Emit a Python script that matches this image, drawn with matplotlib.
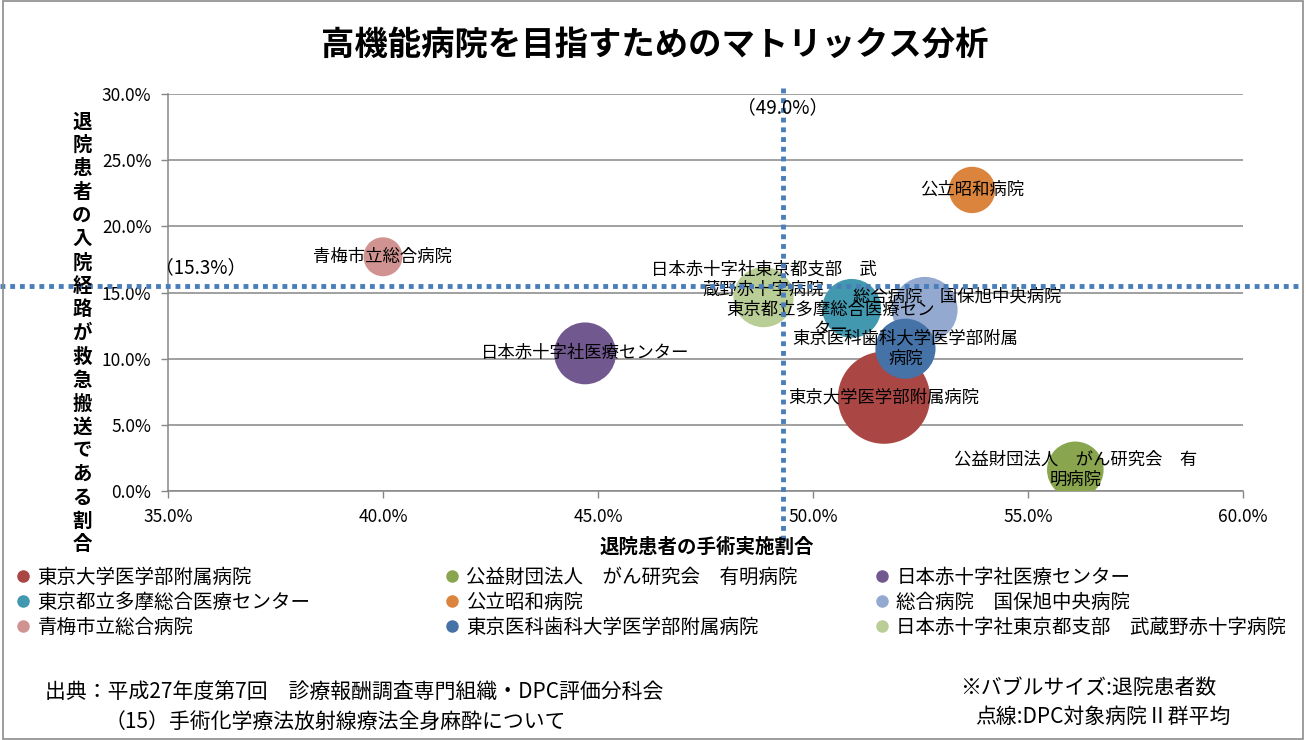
import matplotlib
matplotlib.use("Agg")
import matplotlib.pyplot as plt
from matplotlib.lines import Line2D
from matplotlib.patches import Rectangle
from matplotlib.ticker import FuncFormatter, MultipleLocator

plt.rcParams['font.family'] = ['Noto Sans CJK JP', 'DejaVu Sans']

# data (percent units)
hospitals = ["東京大学医学部附属病院", "公益財団法人　がん研究会　有明病院", "日本赤十字社医療センター",
             "東京都立多摩総合医療センター", "公立昭和病院", "総合病院　国保旭中央病院",
             "青梅市立総合病院", "東京医科歯科大学医学部附属病院", "日本赤十字社東京都支部　武蔵野赤十字病院"]
surgery_rate = [51.65, 56.1, 44.7, 50.9, 53.7, 52.6, 40.0, 52.15, 48.85]
emergency_rate = [7.05, 1.6, 10.4, 13.8, 22.75, 13.7, 17.7, 10.75, 14.65]
patients = [16200, 6100, 7300, 6600, 4100, 8200, 2900, 6900, 6900]
avg_surgery = 49.3      # label says 49.0%
avg_emergency = 15.5    # label says 15.3%

# label text as wrapped in the chart
labels = ["東京大学医学部附属病院", "公益財団法人　がん研究会　有\n明病院", "日本赤十字社医療センター",
          "東京都立多摩総合医療セン\nター", "公立昭和病院", "総合病院　国保旭中央病院",
          "青梅市立総合病院", "東京医科歯科大学医学部附属\n病院", "日本赤十字社東京都支部　武\n蔵野赤十字病院"]
label_shift = [(0, 0), (0, 0), (0, 0), (-21, -11), (0, 0), (32, 13), (0, 0), (0, 0), (0, 17)]

colors = ['#AA4643', '#89A54E', '#71588F', '#4198AF', '#DB843D',
          '#93A9CF', '#D19392', '#4572A7', '#B9CD96']

W, H = 1306, 740
fig = plt.figure(figsize=(W / 100, H / 100), dpi=100)
ax = fig.add_axes([168 / W, 1 - 491 / H, (1243 - 168) / W, (491 - 94) / H])

# bubble size: area proportional to patients, biggest radius ~52px
max_r_pt = 52 * 0.72
k = 3.14159 * max_r_pt ** 2 / max(patients)
order = sorted(range(len(hospitals)), key=lambda i: -patients[i])
for z, i in enumerate(order):
    ax.scatter(surgery_rate[i], emergency_rate[i], s=patients[i] * k, color=colors[i],
               edgecolors='none', zorder=3 + z)
for i in range(len(hospitals)):
    ax.annotate(labels[i], (surgery_rate[i], emergency_rate[i]), xytext=label_shift[i],
                textcoords='offset pixels', ha='center', va='center', fontsize=12.5,
                linespacing=1.15, zorder=20)

ax.set_xlim(35, 60)
ax.set_ylim(0, 30)
ax.xaxis.set_major_locator(MultipleLocator(5))
ax.yaxis.set_major_locator(MultipleLocator(5))
fmt = FuncFormatter(lambda v, p: f"{v:.1f}%")
ax.xaxis.set_major_formatter(fmt)
ax.yaxis.set_major_formatter(fmt)
ax.tick_params(axis='both', labelsize=12.5, length=5, width=1, color='#868686', pad=7)
ax.grid(axis='y', color='#868686', lw=1.1)
ax.set_axisbelow(True)
for s in ['top', 'right']:
    ax.spines[s].set_visible(False)
for s in ['left', 'bottom']:
    ax.spines[s].set_color('#868686')
    ax.spines[s].set_linewidth(1.1)

# average dotted lines
trans_x = ax.get_xaxis_transform()
trans_y = ax.get_yaxis_transform()
ax.plot([avg_surgery, avg_surgery], [1.015, -0.136], transform=trans_x, color='#4A7EBB',
        lw=3.5, ls=(0, (1, 1)), clip_on=False, zorder=30, dash_capstyle='butt')
ax.plot([-0.156, 1.053], [avg_emergency, avg_emergency], transform=trans_y, color='#4A7EBB',
        lw=3.5, ls=(0, (1, 1)), clip_on=False, zorder=30, dash_capstyle='butt')
fig.text(783 / W, 1 - 108 / H, "（49.0%）", ha='center', va='center', fontsize=13.5)
fig.text(201 / W, 1 - 268 / H, "（15.3%）", ha='center', va='center', fontsize=13.5)

# titles
fig.text(655 / W, 1 - 45 / H, "高機能病院を目指すためのマトリックス分析", ha='center', va='center',
         fontsize=24, fontweight='bold')
fig.text(707 / W, 1 - 547 / H, "退院患者の手術実施割合", ha='center', va='center',
         fontsize=14, fontweight='bold')
ylab = "退院患者の入院経路が救急搬送である割合"
for j, ch in enumerate(ylab):
    fig.text(82 / W, 1 - (122 + j * 23.5) / H, ch, ha='center', va='center',
             fontsize=14, fontweight='bold')

# legend in three columns
col_x = [17, 446, 876]
for c in range(3):
    idx = list(range(c, len(hospitals), 3))
    handles = [Line2D([], [], ls='', marker='o', markersize=8, color=colors[i]) for i in idx]
    fig.legend(handles, [hospitals[i] for i in idx], loc='upper left',
               bbox_to_anchor=(col_x[c] / W, 1 - 567 / H), frameon=False, fontsize=14,
               handlelength=0.6, handletextpad=0.45, labelspacing=0.2,
               borderpad=0, borderaxespad=0)

# footer notes
fig.text(45 / W, 1 - 693 / H, "出典：平成27年度第7回　診療報酬調査専門組織・DPC評価分科会",
         ha='left', va='center', fontsize=15)
fig.text(105 / W, 1 - 722 / H, "（15）手術化学療法放射線療法全身麻酔について",
         ha='left', va='center', fontsize=15)
fig.text(960 / W, 1 - 688 / H, "※バブルサイズ:退院患者数", ha='left', va='center', fontsize=15)
fig.text(975 / W, 1 - 717 / H, "点線:DPC対象病院Ⅱ群平均", ha='left', va='center', fontsize=15)

fig.patches.append(Rectangle((0.002, 0.002), 0.996, 0.996, transform=fig.transFigure,
                             fill=False, edgecolor='#8C8C8C', lw=1.2))

fig.savefig('out.png', dpi=100)
